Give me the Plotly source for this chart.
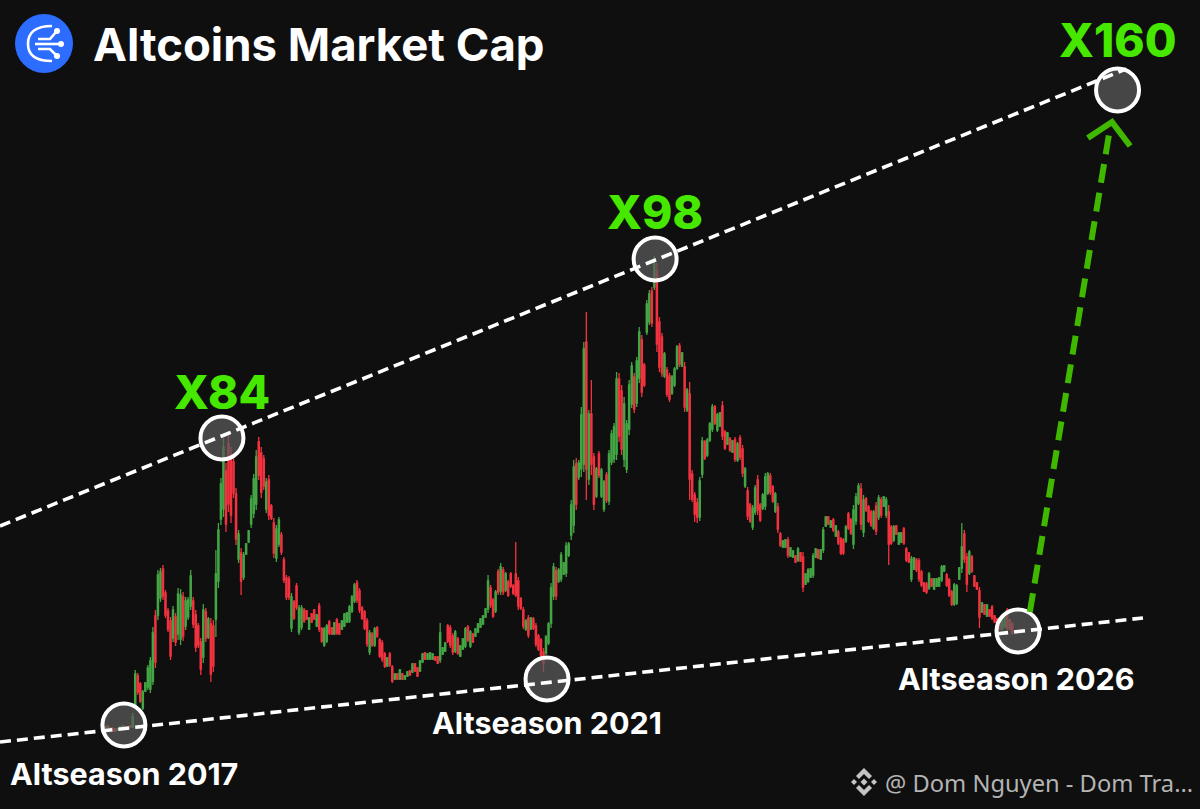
import plotly.graph_objects as go

opens = [
80,83,79,81,80,79,80,81,82,81,
83,82,104,133,125,101,118,122,120,128,
193,194,211,240,216,198,188,171,192,175,
170,212,183,192,203,208,194,183,167,152,
197,172,185,183,190,228,290,300,338,365,
354,347,315,250,256,232,255,267,285,296,
305,367,356,350,300,329,303,286,251,265,
274,249,231,230,181,207,223,177,182,199,
198,180,195,199,183,203,180,164,168,187,
181,175,189,185,180,183,187,188,198,208,
226,218,201,197,188,157,175,164,181,169,
166,155,143,155,142,130,135,130,135,130,
133,138,137,145,141,138,147,156,150,150,
150,152,152,149,155,158,183,181,173,158,
170,153,160,163,182,163,175,173,177,182,
185,192,200,221,209,198,237,218,239,219,
227,235,223,235,228,210,199,180,191,180,190,183,
173,169,157,156,166,186,213,238,228,230,235,
236,254,274,284,345,332,340,345,467,330,
395,352,313,355,313,300,334,308,347,
350,355,430,418,350,340,380,405,432,
406,431,469,444,477,487,518,522,538,487,
472,433,439,433,416,424,441,463,443,442,
399,415,335,314,306,292,335,367,
354,369,380,402,379,383,403,377,365,370,
357,369,349,371,360,323,318,304,282,297,
329,304,301,303,316,333,322,298,302,275,
262,262,269,253,252,253,249,256,252,225,228,
232,234,252,259,250,259,283,292,282,289,273,277,
270,269,268,295,289,265,288,306,320,277,
310,302,297,281,303,292,309,303,294,297,
282,269,283,265,267,280,260,256,230,240,
249,248,237,226,225,221,230,220,223,223,
229,238,234,229,217,205,206,230,241,275,
252,236,252,233,226,218,197,204,193,
199,202,193,190,188,180,182,198,189,
185]
highs = [
83,84,82,82,81,81,83,84,83,83,
84,96,139,136,127,119,127,144,152,182,
199,239,241,244,219,201,192,203,196,221,
220,217,212,212,239,212,199,186,171,205,
201,192,191,189,259,286,331,371,346,374,
362,352,321,279,261,257,266,279,314,335,
359,372,362,354,331,334,305,291,284,292,
277,252,234,233,216,209,226,204,204,201,
199,192,196,200,195,206,182,182,185,189,
182,187,191,186,189,196,197,204,214,226,
229,221,203,199,191,179,177,182,183,171,
169,157,152,157,144,136,136,140,136,134,
138,139,146,146,142,149,156,157,156,157,
156,153,153,186,162,167,185,184,176,179,
172,164,171,182,184,179,176,181,186,191,
194,201,234,224,211,219,240,246,242,237,
229,237,225,267,232,212,202,190,194,192,192,186,
175,171,161,174,187,226,246,242,241,257,247,
267,267,309,349,351,349,402,467,497,399,
429,356,342,358,341,329,337,359,379,
386,437,436,424,412,389,429,447,436,
452,482,474,446,509,519,522,553,546,492,
476,457,442,436,434,442,464,466,457,447,
421,427,339,317,311,332,372,369,
371,387,405,404,396,397,408,379,377,372,
369,372,367,374,364,342,322,306,304,324,
334,306,316,336,337,336,324,317,306,277,
269,270,272,262,259,254,262,257,257,236,241,
241,256,261,260,260,282,293,293,289,291,284,279,
272,271,284,297,291,304,316,326,326,314,
312,304,299,299,307,314,312,313,312,304,
284,284,284,277,277,282,262,257,253,252,
251,251,239,227,227,237,231,231,231,232,
244,244,236,231,219,226,225,242,286,279,
256,259,254,234,227,222,207,205,205,
200,204,194,191,189,192,192,201,190,
187]
lows = [
79,80,78,77,77,78,79,80,80,80,
81,81,101,114,106,99,117,119,116,124,
141,189,207,209,191,177,149,167,163,169,
164,168,179,189,199,181,157,161,134,146,
167,170,127,137,172,221,284,292,277,297,
286,311,264,246,214,229,254,266,281,291,
299,329,311,319,296,289,289,251,247,262,
254,226,209,209,177,189,199,174,179,186,
189,179,186,189,182,177,166,162,166,174,
174,174,174,174,179,182,186,186,196,206,
206,196,189,179,162,154,162,162,171,151,
147,141,142,142,126,129,129,129,129,129,
132,133,136,137,132,137,146,149,149,149,
149,148,145,146,154,157,166,161,154,156,
154,152,159,161,167,161,166,172,176,181,
184,191,196,201,191,196,214,214,214,217,
212,221,214,212,199,199,180,178,171,179,179,162,
158,151,137,154,164,181,209,209,226,227,234,
232,252,269,276,299,329,332,337,309,324,
334,299,311,331,311,297,306,304,344,
346,349,367,354,342,336,374,401,396,
402,426,412,422,474,484,482,519,457,437,
432,431,412,407,414,422,439,442,442,397,
397,309,307,287,286,288,331,349,
352,367,377,384,377,382,369,359,364,357,
356,347,347,349,332,321,289,286,279,294,
294,287,299,299,314,314,306,296,276,262,
261,261,251,252,251,246,247,247,217,224,226,
231,231,251,250,249,256,282,284,281,277,272,264,
254,254,266,279,274,260,284,304,279,272,
297,286,282,279,274,289,291,302,291,244,
264,267,274,264,266,264,247,246,227,239,
237,227,222,217,215,219,222,219,222,222,
227,237,222,212,203,203,204,229,236,246,
217,234,236,222,219,181,196,194,192,
192,189,186,179,179,179,181,179,179,
174]
closes = [
82,81,81,78,78,80,82,83,81,82,
82,92,135,117,108,117,126,141,148,176,
147,234,237,213,194,180,153,199,167,215,
214,173,208,209,233,185,162,164,140,199,
171,190,135,143,235,279,325,362,285,305,
294,316,270,275,228,254,265,278,310,330,
352,334,317,323,327,294,291,256,280,289,
257,229,212,212,212,191,202,201,201,188,
190,191,187,190,194,180,168,180,183,176,
175,186,176,175,188,195,196,202,212,224,
209,199,191,181,165,176,164,180,173,153,
150,143,151,144,128,135,130,139,130,133,
137,134,145,138,133,148,155,150,155,156,
155,149,146,176,161,166,168,164,157,177,
156,163,170,180,169,177,167,180,185,190,
193,200,228,204,193,217,217,242,217,235,
214,223,216,214,203,201,183,188,174,191,181,165,
160,153,146,172,185,221,242,213,239,254,246,
263,265,304,342,305,346,394,460,340,395,
345,305,340,334,339,327,309,355,375,
382,430,373,360,405,385,424,443,400,
448,477,417,424,505,515,486,545,465,442,
436,455,415,410,432,440,462,445,456,402,
419,330,310,295,292,328,368,351,
369,385,402,386,394,396,373,361,376,359,
368,350,365,352,336,340,293,288,301,321,
299,289,314,332,335,317,308,315,280,264,
268,269,254,261,258,247,260,248,222,235,239,
240,253,260,251,259,279,292,285,288,279,283,266,
256,256,282,281,276,299,312,323,285,309,
299,288,284,297,278,311,294,312,309,265,
266,282,275,276,276,266,249,247,250,251,
239,230,224,218,217,235,223,230,230,231,
242,243,224,214,205,224,223,241,262,250,
225,257,238,223,220,192,206,195,204,
193,191,187,180,180,191,191,181,180,
176]
assert len(opens) == len(highs) == len(lows) == len(closes)
periods = list(range(len(opens)))

upper_trend_x = [-41.67, 405.2]
upper_trend_y = [283, 740]
lower_trend_x = [-41.67, 411.9]
lower_trend_y = [67, 191]

pivot_x = [7.5, 46.4, 175.4, 218.3, 362.3, 401.8]
pivot_y = [84, 371, 130, 550, 178, 719]

target_x = [367, 398.5]
target_y = [197, 676]
head_x = [390, 399.6, 406.8]
head_y = [671, 687, 663]

gain_labels = ["X84", "X98", "X160"]
gain_x = [46.6, 218.3, 402]
gain_y = [417, 597, 769]
season_labels = ["Altseason 2017", "Altseason 2021", "Altseason 2026"]
season_x = [7.5, 175.4, 361.5]
season_y = [36, 87, 131]

BG = "#0f0f0f"
WHITE = "#ffffff"
GREEN_TXT = "#47e800"
GREEN_LINE = "#40b800"

fig = go.Figure()
fig.add_trace(go.Candlestick(
    x=periods, open=opens, high=highs, low=lows, close=closes,
    increasing=dict(line=dict(color="#43a544", width=1.3), fillcolor="#43a544"),
    decreasing=dict(line=dict(color="#f2323f", width=1.3), fillcolor="#f2323f"),
    whiskerwidth=0, hoverinfo="skip", showlegend=False))
fig.add_trace(go.Scatter(
    x=pivot_x, y=pivot_y, mode="markers", hoverinfo="skip",
    marker=dict(size=43, color="rgba(91,91,91,0.72)", line=dict(color=WHITE, width=4))))
for xs, ys in [(upper_trend_x, upper_trend_y), (lower_trend_x, lower_trend_y)]:
    fig.add_trace(go.Scatter(x=xs, y=ys, mode="lines", hoverinfo="skip",
                             line=dict(color=WHITE, width=3.6, dash="11px,6px")))
fig.add_trace(go.Scatter(x=target_x, y=target_y, mode="lines", hoverinfo="skip",
                         line=dict(color=GREEN_LINE, width=6, dash="19px,10px")))
fig.add_trace(go.Scatter(x=head_x, y=head_y, mode="lines", hoverinfo="skip",
                         line=dict(color=GREEN_LINE, width=6)))

annotations = []
for t, x, y in zip(gain_labels, gain_x, gain_y):
    annotations.append(dict(x=x, y=y, xref="x", yref="y", text=t, showarrow=False,
                            font=dict(family="Inter", size=46, weight=800, color=GREEN_TXT)))
for t, x, y in zip(season_labels, season_x, season_y):
    annotations.append(dict(x=x, y=y, xref="x", yref="y", text=f"<b>{t}</b>", showarrow=False,
                            font=dict(family="Inter", size=30.5, color=WHITE)))

def px(x):
    return x / 1200

def py(y):
    return 1 - y / 809

annotations.append(dict(x=px(91), y=py(44), xref="paper", yref="paper", xanchor="left", yanchor="middle",
                        text="<b>Altcoins Market Cap</b>", showarrow=False,
                        font=dict(family="Inter", size=45.5, color=WHITE)))
annotations.append(dict(x=px(883), y=py(783), xref="paper", yref="paper", xanchor="left", yanchor="middle",
                        text="@ Dom Nguyen - Dom Tra...", showarrow=False,
                        font=dict(family="Noto Sans", size=23.7, color="#b4b4b4")))

def path(pts, close=True):
    s = "M" + " L".join(f"{px(a):.5f},{py(b):.5f}" for a, b in pts)
    return s + (" Z" if close else "")

shapes = [dict(type="circle", xref="paper", yref="paper", x0=px(15), x1=px(73), y0=py(14), y1=py(73),
               fillcolor="#2c6cff", line=dict(width=0), layer="above")]
logo_line = dict(color=WHITE, width=2.6)
arc = f"M{px(52):.5f},{py(26):.5f} Q{px(28):.5f},{py(26):.5f} {px(28):.5f},{py(44):.5f} Q{px(28):.5f},{py(61):.5f} {px(52):.5f},{py(61):.5f}"
shapes.append(dict(type="path", xref="paper", yref="paper", path=arc, line=logo_line, layer="above"))
for pts in ([(38, 39), (50, 39), (56, 32)], [(35, 44), (61, 44)], [(38, 49), (50, 49), (56, 55)]):
    shapes.append(dict(type="path", xref="paper", yref="paper", path=path(pts, False), line=logo_line, layer="above"))
for cx, cy in [(57, 31), (61, 44), (57, 56)]:
    shapes.append(dict(type="circle", xref="paper", yref="paper", x0=px(cx-3), x1=px(cx+3), y0=py(cy-3), y1=py(cy+3),
                       fillcolor=WHITE, line=dict(width=0), layer="above"))

GREY = "#c4c4c4"
cx, cy = 864, 782
for pts in ([(cx, cy-14), (cx+8, cy-6), (cx+5, cy-3), (cx, cy-8), (cx-5, cy-3), (cx-8, cy-6)],
            [(cx, cy+14), (cx+8, cy+6), (cx+5, cy+3), (cx, cy+8), (cx-5, cy+3), (cx-8, cy+6)],
            [(cx, cy-3.5), (cx+3.5, cy), (cx, cy+3.5), (cx-3.5, cy)],
            [(cx-10, cy-3), (cx-7, cy), (cx-10, cy+3), (cx-13, cy)],
            [(cx+10, cy-3), (cx+13, cy), (cx+10, cy+3), (cx+7, cy)]):
    shapes.append(dict(type="path", xref="paper", yref="paper", path=path(pts), fillcolor=GREY, line=dict(width=0), layer="above"))

fig.update_layout(
    width=1200, height=809, margin=dict(l=0, r=0, t=0, b=0),
    paper_bgcolor=BG, plot_bgcolor=BG, showlegend=False, dragmode=False,
    xaxis=dict(range=[-41.67, 434.52], visible=False, rangeslider=dict(visible=False), fixedrange=True),
    yaxis=dict(range=[0, 809], visible=False, fixedrange=True),
    annotations=annotations, shapes=shapes)
fig.write_html("out.html", config=dict(displayModeBar=False),
               post_script="document.body.style.margin='0';document.body.style.background='#0f0f0f';document.documentElement.style.overflow='hidden';")
